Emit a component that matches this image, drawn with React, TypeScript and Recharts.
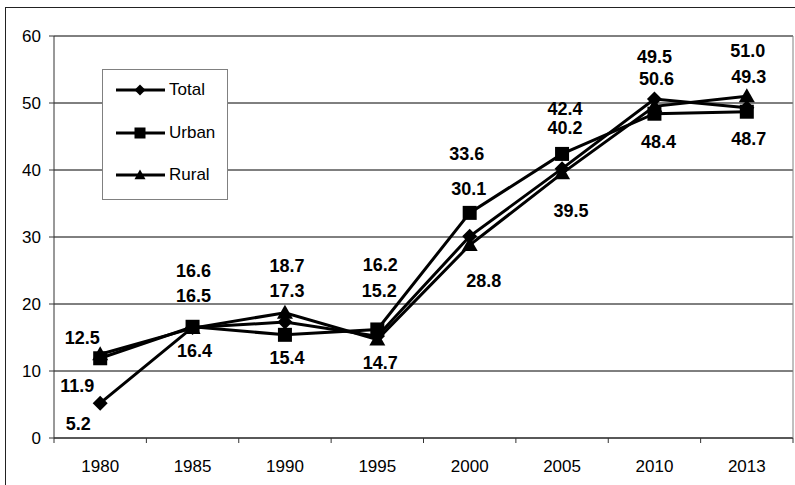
import React from "react";
import {
  LineChart,
  Line,
  XAxis,
  YAxis,
  CartesianGrid,
  ReferenceLine,
  LabelList,
  Legend
} from "recharts";

const years = ["1980", "1985", "1990", "1995", "2000", "2005", "2010", "2013"];
const total = [5.2, 16.5, 17.3, 15.2, 30.1, 40.2, 50.6, 49.3];
const urban = [11.9, 16.6, 15.4, 16.2, 33.6, 42.4, 48.4, 48.7];
const rural = [12.5, 16.4, 18.7, 14.7, 28.8, 39.5, 49.5, 51.0];
const yTicks = [0, 10, 20, 30, 40, 50, 60];

// hand placed value labels, offset from their point [dx, dy]
const totalLabelPos = [[-22, 20], [1, -32], [2, -32], [2, -46], [-1, -48], [3, -41], [2, -20], [2, -31]];
const urbanLabelPos = [[-23, 27], [1, -56], [2, 23], [3, -65], [-3, -59], [3, -45], [4, 28], [2, 27]];
const ruralLabelPos = [[-18, -17], [2, 22], [2, -47], [3, 23], [14, 35], [9, 37], [0, -50], [1, -46]];

const data = years.map((year, i) => ({
  year,
  total: total[i],
  urban: urban[i],
  rural: rural[i]
}));

const FONT = "'Liberation Sans', Arial, sans-serif";
const PLOT_LEFT = 54;
const PLOT_WIDTH = 739;
const HALF = PLOT_WIDTH / years.length / 2;

const Diamond = ({ cx, cy, r = 7.5 }: any) => (
  <polygon points={`${cx},${cy - r} ${cx + r},${cy} ${cx},${cy + r} ${cx - r},${cy}`} fill="#000" />
);
const Square = ({ cx, cy, r = 7 }: any) => (
  <rect x={cx - r} y={cy - r} width={r * 2} height={r * 2} fill="#000" />
);
const Triangle = ({ cx, cy, r = 8 }: any) => (
  <polygon points={`${cx},${cy - r} ${cx + r},${cy + r * 0.75} ${cx - r},${cy + r * 0.75}`} fill="#000" />
);

const series = [
  { key: "total", name: "Total", Marker: Diamond, pos: totalLabelPos },
  { key: "urban", name: "Urban", Marker: Square, pos: urbanLabelPos },
  { key: "rural", name: "Rural", Marker: Triangle, pos: ruralLabelPos }
];

const makeLabel = (pos: number[][]) => (p: any) => {
  const vb = p.viewBox || {};
  const x = p.x ?? vb.x;
  const y = p.y ?? vb.y;
  const [dx, dy] = pos[p.index] || [0, 0];
  return (
    <text
      x={x + dx}
      y={y + dy}
      dy="0.36em"
      textAnchor="middle"
      fontFamily={FONT}
      fontSize={18}
      fontWeight="bold"
      fill="#000"
    >
      {Number(p.value).toFixed(1)}
    </text>
  );
};

const XTick = ({ x, y, payload, index }: any) => (
  <g>
    <line x1={x - HALF} x2={x - HALF} y1={y} y2={y + 5} stroke="#333" />
    {index === years.length - 1 && (
      <line x1={x + HALF} x2={x + HALF} y1={y} y2={y + 5} stroke="#333" />
    )}
    <text x={x} y={y + 34} textAnchor="middle" fontFamily={FONT} fontSize={17} fill="#000">
      {payload.value}
    </text>
  </g>
);

const LegendBox = () => (
  <div
    style={{
      width: 126,
      height: 131,
      border: "1px solid #808080",
      background: "#fff",
      boxSizing: "border-box",
      position: "relative"
    }}
  >
    {series.map((s, i) => (
      <div
        key={s.key}
        style={{ position: "absolute", left: 0, top: 20 + i * 42.5 - 12, height: 24, width: 124 }}
      >
        <svg width={64} height={24} style={{ position: "absolute", left: 0, top: 0 }}>
          <line x1={13} x2={62} y1={12} y2={12} stroke="#000" strokeWidth={3} />
          <s.Marker cx={37} cy={12} r={5.5} />
        </svg>
        <span
          style={{
            position: "absolute",
            left: 66,
            top: 1,
            fontFamily: FONT,
            fontSize: 17,
            lineHeight: "22px",
            color: "#000"
          }}
        >
          {s.name}
        </span>
      </div>
    ))}
  </div>
);

export default function App() {
  return (
    <div style={{ position: "relative", width: 795, height: 485, overflow: "hidden", background: "#fff" }}>
      <style>{`body{margin:0}`}</style>
      <div
        style={{
          position: "absolute",
          left: 5,
          top: 7,
          width: 820,
          height: 520,
          border: "1px solid #222"
        }}
      />
      <LineChart
        width={795}
        height={485}
        data={data}
        margin={{ top: 36, right: 0, bottom: 0, left: 0 }}
        style={{ position: "absolute", left: 0, top: 0 }}
      >
        <CartesianGrid vertical={false} stroke="#000" yAxisId="left" />
        <XAxis
          dataKey="year"
          height={47}
          padding={{ left: HALF, right: HALF }}
          axisLine={{ stroke: "#333" }}
          tickLine={false}
          tickSize={0}
          tickMargin={0}
          interval={0}
          tick={<XTick />}
        />
        <YAxis
          yAxisId="left"
          width={PLOT_LEFT}
          domain={[0, 60]}
          ticks={yTicks}
          interval={0}
          axisLine={{ stroke: "#333" }}
          tickLine={{ stroke: "#333" }}
          tickSize={5}
          tickMargin={8}
          tick={{ fontFamily: FONT, fontSize: 17, fill: "#000" }}
        />
        <YAxis
          yAxisId="right"
          orientation="right"
          width={2}
          tick={false}
          tickLine={false}
          axisLine={{ stroke: "#808080" }}
        />
        <ReferenceLine yAxisId="left" y={60} stroke="#808080" />
        {series.map((s) => (
          <Line
            key={s.key}
            yAxisId="left"
            dataKey={s.key}
            name={s.name}
            stroke="#000"
            strokeWidth={3}
            type="linear"
            isAnimationActive={false}
            dot={(p: any) => <s.Marker key={`${s.key}-${p.index}`} cx={p.cx} cy={p.cy} />}
            activeDot={false}
          >
            <LabelList dataKey={s.key} content={makeLabel(s.pos)} />
          </Line>
        ))}
        <Legend
          layout="vertical"
          align="center"
          verticalAlign="middle"
          content={() => <LegendBox />}
          wrapperStyle={{ position: "absolute", left: 102, top: 69, width: 126, height: 131 }}
        />
      </LineChart>
    </div>
  );
}
